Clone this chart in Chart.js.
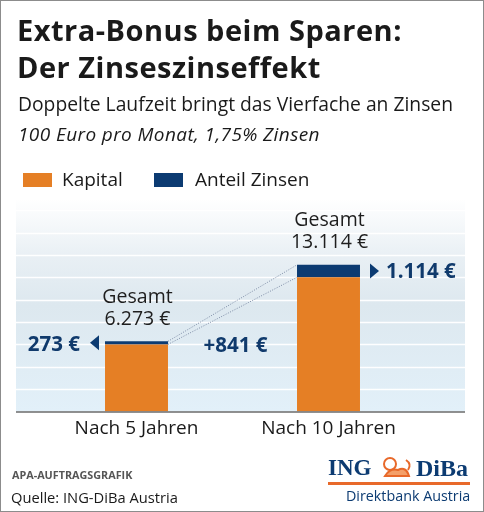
<!DOCTYPE html>
<html>
<head>
<meta charset="utf-8">
<script src="https://cdn.jsdelivr.net/npm/chart.js@4.4.1/dist/chart.umd.min.js"></script>
<style>
html, body { margin: 0; padding: 0; background: #fff; }
#wrap { position: relative; width: 484px; height: 512px; overflow: hidden; font-family: "Open Sans", sans-serif; color: #1a1a1a; }
#frame { position: absolute; left: 0; top: 0; width: 484px; height: 512px; box-sizing: border-box; border: 1px solid #8c8c8c; pointer-events: none; }
#chartBox { position: absolute; left: 0; top: 0; width: 484px; height: 512px; }
.t { position: absolute; white-space: nowrap; line-height: 1; }
.sq { position: absolute; width: 29px; height: 14px; }
</style>
</head>
<body>
<div id="wrap">
  <div id="chartBox"><canvas id="zinsChart"></canvas></div>

  <div class="t" style="left:17px; top:14.5px; font-size:29px; font-weight:700; letter-spacing:0.5px;">Extra-Bonus beim Sparen:</div>
  <div class="t" style="left:17px; top:51.5px; font-size:29px; font-weight:700; letter-spacing:0.5px;">Der Zinseszinseffekt</div>
  <div class="t" style="left:18px; top:94px; font-size:19.3px;">Doppelte Laufzeit bringt das Vierfache an Zinsen</div>
  <div class="t" style="left:18px; top:125px; font-size:19px; font-style:italic; letter-spacing:0.4px;">100 Euro pro Monat, 1,75% Zinsen</div>

  <div class="sq" style="left:23px; top:173px; background:#e57f25;"></div>
  <div class="t" style="left:62px; top:170px; font-size:19px;">Kapital</div>
  <div class="sq" style="left:154px; top:173px; background:#0c3b72;"></div>
  <div class="t" style="left:195px; top:170px; font-size:19px;">Anteil Zinsen</div>

  <div class="t" style="left:12px; top:469.5px; font-size:10.8px; font-weight:700; color:#555;">APA-AUFTRAGSGRAFIK</div>
  <div class="t" style="left:11px; top:490px; font-size:14.7px;">Quelle: ING-DiBa Austria</div>

  <div class="t" style="left:328px; top:456px; font-size:23px; font-weight:700; font-family:'Liberation Serif', serif; color:#0c3b72;">ING</div>
  <svg style="position:absolute; left:380px; top:456px;" width="34" height="22" viewBox="0 0 34 22">
    <g fill="none" stroke="#e8692a" stroke-width="2">
      <circle cx="10" cy="8" r="6"/>
      <path d="M5 20 Q10 12 18 14 Q26 10 29 20 Z" fill="#f4a06a"/>
      <path d="M26 4 Q32 8 28 14"/>
    </g>
  </svg>
  <div class="t" style="left:416px; top:456px; font-size:24px; font-weight:700; font-family:'Liberation Serif', serif; color:#0c3b72;">DiBa</div>
  <div style="position:absolute; left:328px; top:482px; width:142px; height:3px; background:#e8692a;"></div>
  <div class="t" style="left:346px; top:488.5px; font-size:14.3px; color:#0c3b72;">Direktbank Austria</div>

  <div id="frame"></div>
</div>

<script>
// Werte aus der Grafik
const categories = ['Nach 5 Jahren', 'Nach 10 Jahren'];
const kapital = [6000, 12000];
const zinsen = [273, 1114];
const gesamt = [6273, 13114];
const gridValues = [2000, 4000, 6000, 8000, 10000, 12000, 14000, 16000, 18000];
const yMax = 19000;

const ORANGE = '#e57f25';
const NAVY = '#0c3b72';
const NAVY_TEXT = '#103a6c';

function euro(n) {
    return String(n).replace(/\B(?=(\d{3})+(?!\d))/g, '.') + ' €';
}

// Hintergrund, Gitterlinien und Beschriftungen
const deko = {
    id: 'deko',
    beforeDatasetsDraw(chart) {
        const ctx = chart.ctx;
        const y = chart.scales.y;
        const top = y.getPixelForValue(yMax);
        const bottom = y.getPixelForValue(0);
        const left = 16, right = 465;

        const grad = ctx.createLinearGradient(0, top, 0, bottom);
        grad.addColorStop(0, '#ffffff');
        grad.addColorStop(0.28, '#e8eff4');
        grad.addColorStop(0.5, '#dde8ef');
        grad.addColorStop(1, '#e2f0f9');
        ctx.save();
        ctx.fillStyle = grad;
        ctx.fillRect(left, top, right - left, bottom - top);

        ctx.strokeStyle = 'rgba(255,255,255,0.95)';
        ctx.lineWidth = 1.5;
        gridValues.forEach(v => {
            const py = Math.round(y.getPixelForValue(v)) + 0.5;
            ctx.beginPath();
            ctx.moveTo(left, py);
            ctx.lineTo(right, py);
            ctx.stroke();
        });
        ctx.restore();
    },
    afterDatasetsDraw(chart) {
        const ctx = chart.ctx;
        const y = chart.scales.y;
        const bars = chart.getDatasetMeta(1).data;
        const b1 = bars[0], b2 = bars[1];
        const base = y.getPixelForValue(0);

        ctx.save();
        // Grundlinie
        ctx.strokeStyle = '#6b6b6b';
        ctx.lineWidth = 1.5;
        ctx.beginPath();
        ctx.moveTo(16, base + 0.5);
        ctx.lineTo(465, base + 0.5);
        ctx.stroke();

        // gepunktete Verbindungslinien
        ctx.strokeStyle = '#7d8ca6';
        ctx.lineWidth = 1;
        ctx.setLineDash([1, 1.5]);
        [[b1.y, b2.y], [b1.base, b2.base]].forEach(([ya, yb]) => {
            ctx.beginPath();
            ctx.moveTo(b1.x + b1.width / 2, ya);
            ctx.lineTo(b2.x - b2.width / 2, yb);
            ctx.stroke();
        });
        ctx.setLineDash([]);

        // Pfeile
        const m1 = (b1.y + b1.base) / 2;
        const m2 = (b2.y + b2.base) / 2;
        const l1 = b1.x - b1.width / 2;
        const r2 = b2.x + b2.width / 2;
        ctx.fillStyle = NAVY;
        ctx.beginPath();
        ctx.moveTo(l1 - 6, m1 - 7.5);
        ctx.lineTo(l1 - 6, m1 + 7.5);
        ctx.lineTo(l1 - 15, m1);
        ctx.closePath();
        ctx.fill();
        ctx.beginPath();
        ctx.moveTo(r2 + 10, m2 - 7.5);
        ctx.lineTo(r2 + 10, m2 + 7.5);
        ctx.lineTo(r2 + 19, m2);
        ctx.closePath();
        ctx.fill();

        // Zinsbeträge
        ctx.fillStyle = NAVY_TEXT;
        ctx.font = 'bold 20.5px "Open Sans"';
        ctx.textBaseline = 'alphabetic';
        ctx.textAlign = 'right';
        ctx.fillText(euro(zinsen[0]), l1 - 25, m1 + 8.5);
        ctx.textAlign = 'left';
        ctx.fillText(euro(zinsen[1]), r2 + 26, m2 + 7);
        ctx.textAlign = 'center';
        const mid = (b1.x + b1.width / 2 + b2.x - b2.width / 2) / 2;
        ctx.fillText('+' + euro(zinsen[1] - zinsen[0]), mid + 3, m1 + 9);

        // Gesamtbeträge
        ctx.fillStyle = '#1e1e1e';
        ctx.font = '19.5px "Open Sans"';
        [b1, b2].forEach((b, i) => {
            ctx.fillText('Gesamt', b.x + 1, b.y - 38.5);
            ctx.fillText(euro(gesamt[i]), b.x + 1, b.y - 16.5);
        });
        ctx.restore();
    }
};

new Chart(document.getElementById('zinsChart'), {
    type: 'bar',
    data: {
        labels: categories,
        datasets: [
            { label: 'Kapital', data: kapital, backgroundColor: ORANGE, borderWidth: 0 },
            { label: 'Anteil Zinsen', data: zinsen, backgroundColor: NAVY, borderWidth: 0 }
        ]
    },
    options: {
        responsive: true,
        maintainAspectRatio: false,
        animation: false,
        layout: { padding: { left: 40.5, right: 59.5, top: 199, bottom: 60.5 } },
        datasets: { bar: { categoryPercentage: 1, barPercentage: 0.328 } },
        plugins: { legend: { display: false }, tooltip: { enabled: false } },
        scales: {
            x: {
                stacked: true,
                offset: true,
                grid: { display: false, drawTicks: false },
                border: { display: false },
                ticks: { color: '#1a1a1a', padding: 6, font: { family: 'Open Sans', size: 19 } },
                afterFit(scale) { scale.height = 40; }
            },
            y: {
                stacked: true,
                display: false,
                min: 0,
                max: yMax
            }
        }
    },
    plugins: [deko]
});
</script>
</body>
</html>
